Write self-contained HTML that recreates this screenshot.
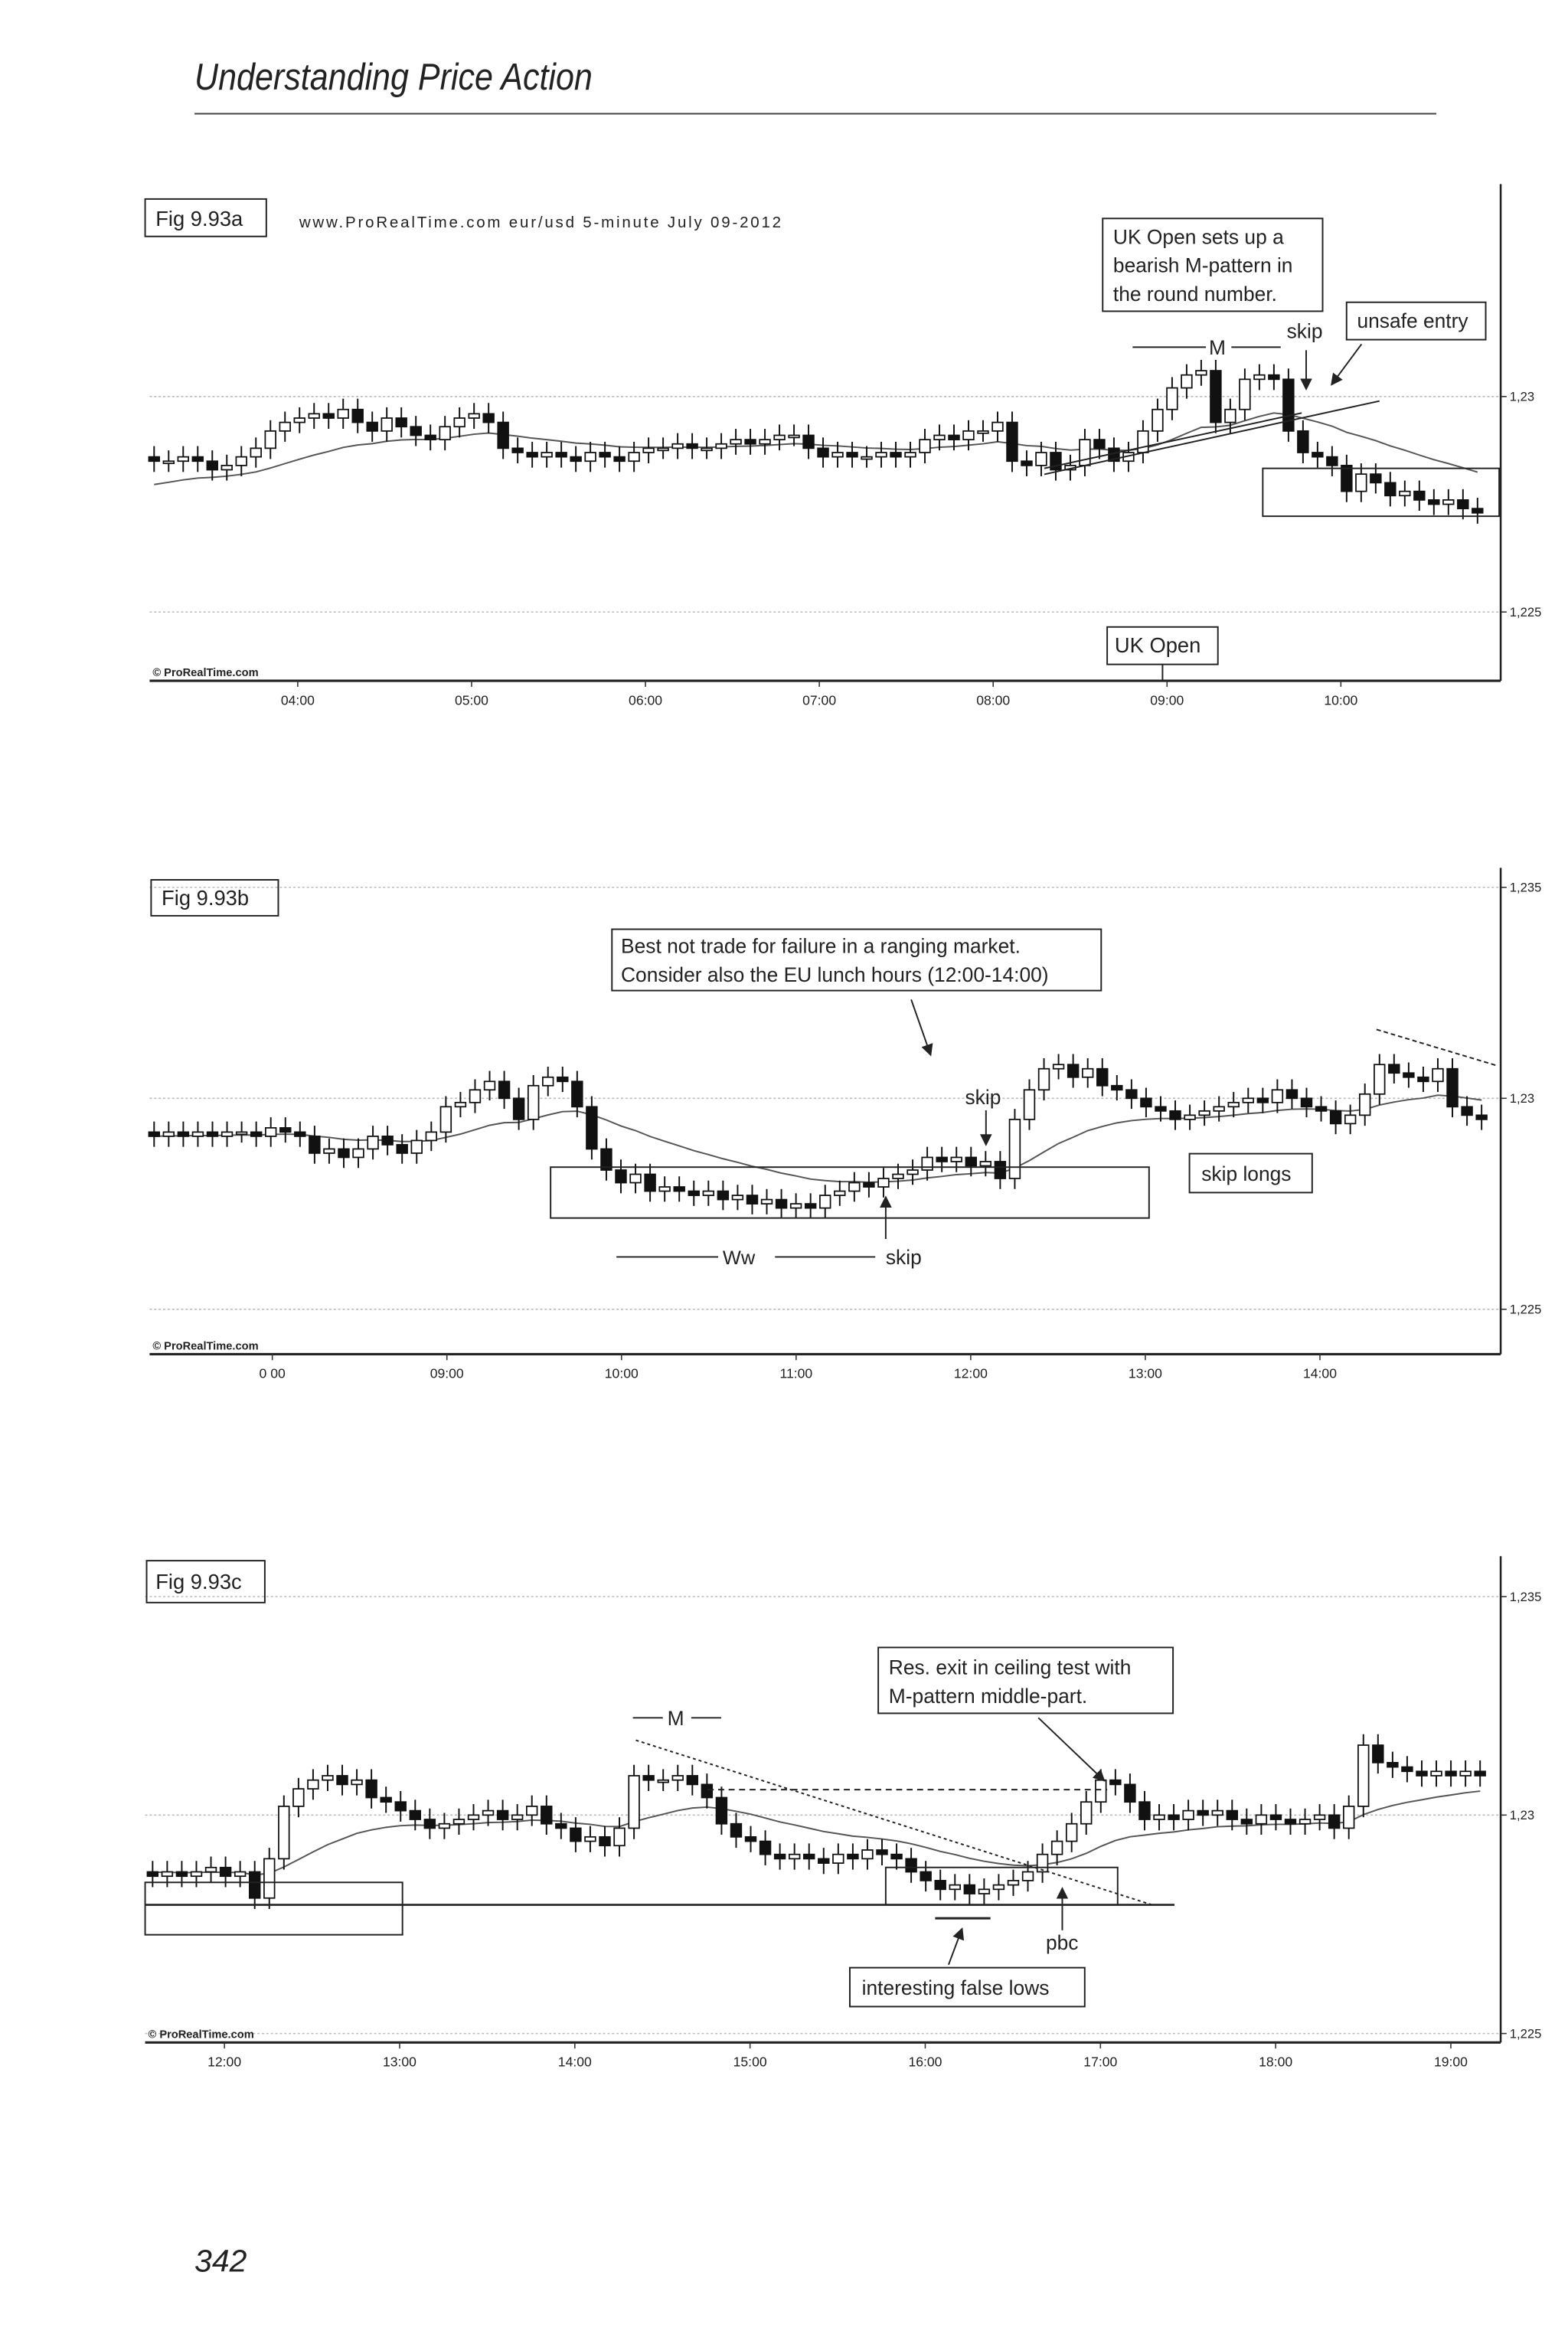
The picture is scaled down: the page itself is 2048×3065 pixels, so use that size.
<!DOCTYPE html>
<html><head><meta charset="utf-8">
<style>
html,body{margin:0;padding:0;background:#fff;}
svg{display:block;}
text{font-family:"Liberation Sans",sans-serif;fill:#222;}
</style></head>
<body>
<svg id="page" width="2048" height="3065" viewBox="0 0 1048 1568.5" preserveAspectRatio="none" xmlns="http://www.w3.org/2000/svg">
<rect width="1048" height="1568.5" fill="#fff"/>
<text x="130" y="60" font-size="25" font-style="italic" fill="#111" textLength="266" lengthAdjust="spacingAndGlyphs">Understanding Price Action</text>
<line x1="130" y1="76" x2="960" y2="76" stroke="#444" stroke-width="1"/>
<text x="130" y="1518" font-size="21" font-style="italic" fill="#111">342</text>
<g id="charts"></g>
</svg>
<script>
// ---- Chart A data (eur/usd 5-minute) ----
const closesA = [1.2285,1.2285,1.2286,1.2285,1.2283,1.2284,1.2286,1.2288,1.2292,1.2294,
1.2295,1.2296,1.2295,1.2297,1.2294,1.2292,1.2295,1.2293,1.2291,1.2290,1.2293,1.2295,
1.2296,1.2294,1.2288,1.2287,1.2286,1.2287,1.2286,1.2285,1.2287,1.2286,1.2285,1.2287,
1.2288,1.2288,1.2289,1.2288,1.2288,1.2289,1.2290,1.2289,1.2290,1.2291,1.2291,1.2288,
1.2286,1.2287,1.2286,1.2286,1.2287,1.2286,1.2287,1.2290,1.2291,1.2290,1.2292,1.2292,
1.2294,1.2285,1.2284,1.2287,1.2283,1.2284,1.2290,1.2288,
1.2285,1.2287,1.2292,1.2297,
1.2302,1.2305,1.2306,1.2294,1.2297,1.2304,1.2305,1.2304,1.2292,1.2287,
1.2286,1.2284,1.2278,1.2282,1.2280,1.2277,1.2278,1.2276,1.2275,1.2276,1.2274,1.2273];
const maSeedA = 1.2279;
const timeLabelsA = ["04:00","05:00","06:00","07:00","08:00","09:00","10:00"];
const priceLabelsA = ["1,23","1,225"];
const priceTicksA = [1.230,1.225];

// ---- Chart B data ----
const closesB = [1.2291,1.2292,1.2291,1.2292,1.2291,1.2292,1.2292,1.2291,1.2293,1.2292,1.2291,1.2287,1.2288,1.2286,1.2288,1.2291,1.2289,1.2287,1.2290,1.2292,
1.2298,1.2299,1.2302,1.2304,1.2300,1.2295,1.2303,1.2305,1.2304,1.2298,
1.2288,1.2283,1.2280,1.2282,1.2278,1.2279,
1.2278,1.2277,1.2278,1.2276,1.2277,1.2275,1.2276,1.2274,1.2275,1.2274,1.2277,
1.2278,1.2280,1.2279,1.2281,1.2282,1.2283,
1.2286,1.2285,1.2286,1.2284,1.2285,1.2281,
1.2295,1.2302,1.2307,1.2308,1.2305,1.2307,
1.2303,1.2302,1.2300,1.2298,1.2297,1.2295,
1.2296,1.2297,1.2298,1.2299,1.2300,1.2299,1.2302,1.2300,1.2298,1.2297,
1.2294,1.2296,1.2301,1.2308,1.2306,
1.2305,1.2304,1.2307,1.2298,1.2296,1.2295];
const maSeedB = 1.2291;
const timeLabelsB = ["0 00","09:00","10:00","11:00","12:00","13:00","14:00"];
const priceLabelsB = ["1,235","1,23","1,225"];
const priceTicksB = [1.235,1.230,1.225];

// ---- Chart C data ----
const closesC = [1.2286,1.2287,1.2286,1.2287,1.2288,1.2286,1.2287,
1.2281,
1.2290,1.2302,1.2306,
1.2308,1.2309,1.2307,1.2308,
1.2304,1.2303,1.2301,1.2299,1.2297,
1.2298,1.2299,1.2300,1.2301,1.2299,1.2300,1.2302,1.2298,
1.2297,1.2294,1.2295,1.2293,1.2297,
1.2309,1.2308,1.2308,1.2309,1.2307,
1.2304,1.2298,1.2295,1.2294,1.2291,
1.2290,1.2291,1.2290,1.2289,1.2291,1.2290,1.2292,1.2291,1.2290,
1.2287,1.2285,1.2283,1.2284,1.2282,1.2283,1.2284,1.2285,1.2287,
1.2291,1.2294,1.2298,1.2303,1.2308,
1.2307,1.2303,1.2299,1.2300,1.2299,1.2301,1.2300,1.2301,1.2299,1.2298,1.2300,1.2299,1.2298,1.2299,1.2300,
1.2297,1.2302,1.2316,
1.2312,1.2311,1.2310,1.2309,1.2310,1.2309,1.2310,1.2309];
const maSeedC = 1.2287;
const timeLabelsC = ["12:00","13:00","14:00","15:00","16:00","17:00","18:00","19:00"];
const priceLabelsC = ["1,235","1,23","1,225"];
const priceTicksC = [1.235,1.230,1.225];

const NS = "http://www.w3.org/2000/svg";
const root = document.getElementById('charts');
function mk(tag, attrs, parent){
  const e = document.createElementNS(NS, tag);
  for (const k in attrs) e.setAttribute(k, attrs[k]);
  (parent||root).appendChild(e);
  return e;
}
function txt(s, x, y, size, parent, anchor){
  const t = mk('text', {x:x, y:y, 'font-size':size, 'text-anchor':anchor||'start'}, parent);
  t.textContent = s;
  return t;
}

function drawChart(cfg){
  const g = mk('g', {});
  
  
  const xS = i => cfg.x0 + i*cfg.step;
  const yS = p => cfg.yRef + (cfg.ref - p)*cfg.pxPerUnit;
  cfg.ticks.forEach((p,i)=>{
    const l = mk('line',{x1:cfg.left,x2:cfg.right,y1:yS(p),y2:yS(p),stroke:'#bbb','stroke-width':0.8,'stroke-dasharray':'1.5,1.5'},g);
    
    
    const tk = mk('line',{x1:cfg.right,x2:cfg.right+4,y1:yS(p),y2:yS(p),stroke:'#333','stroke-width':0.8},g);
    
    
    const t = txt(cfg.plabels[i], cfg.right+6, yS(p)+3, 8.5, g);
    
    
  });
  const ax = mk('line',{x1:cfg.right,x2:cfg.right,y1:cfg.top,y2:cfg.bottom,stroke:'#222','stroke-width':1.3},g);
  
  
  const bx = mk('line',{x1:cfg.left,x2:cfg.right,y1:cfg.bottom,y2:cfg.bottom,stroke:'#222','stroke-width':1.6},g);
  
  
  cfg.tlabels.forEach((s,i)=>{
    const x = cfg.tx0 + i*cfg.tstep;
    const tk = mk('line',{x1:x,x2:x,y1:cfg.bottom,y2:cfg.bottom+4,stroke:'#333','stroke-width':0.8},g);
    
    
    const t = txt(s, x, cfg.bottom+16, 9, g, 'middle');
    
    
  });
  const c = txt('© ProRealTime.com', cfg.left+2, cfg.bottom-3, 7.5, g);
  c.setAttribute('font-weight','bold');
  
  
  let ma = cfg.seed, pts = [];
  const k = 2/(20+1);
  cfg.closes.forEach((cl,i)=>{ ma = ma + k*(cl-ma); pts.push(xS(i).toFixed(1)+','+yS(ma).toFixed(1)); });
  const pl = mk('polyline',{points:pts.join(' '),fill:'none',stroke:'#555','stroke-width':1},g);
  
  
  cfg.closes.forEach((cl,i)=>{
    const op = i===0 ? cl+0.0001 : cfg.closes[i-1];
    const hi = Math.max(op,cl)+0.00025, lo = Math.min(op,cl)-0.00025;
    const x = xS(i);
    const w = mk('line',{x1:x,x2:x,y1:yS(hi),y2:yS(lo),stroke:'#111','stroke-width':1},g);
    
    
    const top = yS(Math.max(op,cl)), h = Math.max(1.5, Math.abs(yS(op)-yS(cl)));
    const r = mk('rect',{x:x-3.5,y:top,width:7,height:h,fill:cl>=op?'#fff':'#111',stroke:'#111','stroke-width':0.9},g);
    
    
  });
  return g;
}

drawChart({name:'chart-fig-9-93a',closes:closesA,seed:maSeedA,x0:103,step:9.72,ref:1.23,yRef:265,pxPerUnit:28800,
  left:100,right:1003,top:123,bottom:455,ticks:priceTicksA,plabels:priceLabelsA,tlabels:timeLabelsA,tx0:199,tstep:116.2});
drawChart({name:'chart-fig-9-93b',closes:closesB,seed:maSeedB,x0:103,step:9.75,ref:1.23,yRef:734,pxPerUnit:28200,
  left:100,right:1003,top:580,bottom:905,ticks:priceTicksB,plabels:priceLabelsB,tlabels:timeLabelsB,tx0:182,tstep:116.7});
drawChart({name:'chart-fig-9-93c',closes:closesC,seed:maSeedC,x0:102,step:9.75,ref:1.23,yRef:1213,pxPerUnit:29200,
  left:97,right:1003,top:1040,bottom:1365,ticks:priceTicksC,plabels:priceLabelsC,tlabels:timeLabelsC,tx0:150,tstep:117.1});
</script>

<svg style="position:absolute;left:0;top:0" width="2048" height="3065" viewBox="0 0 1048 1568.5" preserveAspectRatio="none" xmlns="http://www.w3.org/2000/svg">
<defs><marker id="ah" markerWidth="8" markerHeight="8" refX="7" refY="4" orient="auto" markerUnits="userSpaceOnUse"><path d="M0,0 L8,4 L0,8 z" fill="#222"/></marker></defs>
<g fill="none" stroke="#222" stroke-width="1">
<rect x="97" y="133" width="81" height="25"/>
<rect x="737" y="146" width="147" height="62"/>
<rect x="900" y="202" width="93" height="25"/>
<line x1="757" y1="232" x2="806" y2="232"/>
<line x1="823" y1="232" x2="856" y2="232"/>
<line x1="873" y1="234" x2="873" y2="260" marker-end="url(#ah)"/>
<line x1="910" y1="230" x2="890" y2="257" marker-end="url(#ah)"/>
<line x1="698" y1="317" x2="922" y2="268"/>
<line x1="698" y1="313" x2="870" y2="276"/>
<rect x="844" y="313" width="158" height="32"/>
<rect x="740" y="419" width="74" height="25"/>
<line x1="777" y1="444" x2="777" y2="455"/>
<rect x="101" y="588" width="85" height="24"/>
<rect x="409" y="621" width="327" height="41"/>
<line x1="609" y1="668" x2="622" y2="705" marker-end="url(#ah)"/>
<line x1="659" y1="742" x2="659" y2="765" marker-end="url(#ah)"/>
<rect x="368" y="780" width="400" height="34"/>
<line x1="592" y1="828" x2="592" y2="800" marker-end="url(#ah)"/>
<line x1="412" y1="840" x2="480" y2="840"/>
<line x1="518" y1="840" x2="585" y2="840"/>
<rect x="795" y="771" width="82" height="26"/>
<line x1="920" y1="688" x2="1000" y2="712" stroke-dasharray="3,2"/>
<rect x="98" y="1043" width="79" height="28"/>
<line x1="423" y1="1148" x2="443" y2="1148"/>
<line x1="462" y1="1148" x2="482" y2="1148"/>
<rect x="587" y="1101" width="197" height="44"/>
<line x1="694" y1="1148" x2="738" y2="1190" marker-end="url(#ah)"/>
<line x1="425" y1="1163" x2="770" y2="1273" stroke-dasharray="2,2"/>
<line x1="473" y1="1196" x2="740" y2="1196" stroke-dasharray="4,3"/>
<line x1="97" y1="1273" x2="785" y2="1273" stroke-width="1.3"/>
<rect x="97" y="1258" width="172" height="35"/>
<rect x="592" y="1248" width="155" height="25"/>
<line x1="625" y1="1282" x2="662" y2="1282" stroke-width="1.5"/>
<line x1="710" y1="1290" x2="710" y2="1262" marker-end="url(#ah)"/>
<rect x="568" y="1315" width="157" height="26"/>
<line x1="634" y1="1313" x2="643" y2="1289" marker-end="url(#ah)"/>
</g>
<g font-family="Liberation Sans, sans-serif" fill="#222">
<text x="104" y="151" font-size="14">Fig 9.93a</text>
<text x="200" y="152" font-size="10.5" textLength="322" lengthAdjust="spacing">www.ProRealTime.com     eur/usd  5-minute  July 09-2012</text>
<text x="744" y="163" font-size="13.5">UK Open sets up a</text>
<text x="744" y="182" font-size="13.5">bearish M-pattern in</text>
<text x="744" y="201" font-size="13.5">the round number.</text>
<text x="907" y="219" font-size="13.5">unsafe entry</text>
<text x="860" y="226" font-size="13.5">skip</text>
<text x="808" y="237" font-size="13.5">M</text>
<text x="745" y="436" font-size="14">UK Open</text>
<text x="108" y="605" font-size="14">Fig 9.93b</text>
<text x="415" y="637" font-size="13.5">Best not trade for failure in a ranging market.</text>
<text x="415" y="656" font-size="13.5">Consider also the EU lunch hours (12:00-14:00)</text>
<text x="645" y="738" font-size="13.5">skip</text>
<text x="483" y="845" font-size="13">Ww</text>
<text x="592" y="845" font-size="13.5">skip</text>
<text x="803" y="789" font-size="13.5">skip longs</text>
<text x="104" y="1062" font-size="14">Fig 9.93c</text>
<text x="446" y="1153" font-size="13.5">M</text>
<text x="594" y="1119" font-size="13.5">Res. exit in ceiling test with</text>
<text x="594" y="1138" font-size="13.5">M-pattern middle-part.</text>
<text x="699" y="1303" font-size="13.5">pbc</text>
<text x="576" y="1333" font-size="13.5">interesting false lows</text>
</g>
</svg>
</body></html>
